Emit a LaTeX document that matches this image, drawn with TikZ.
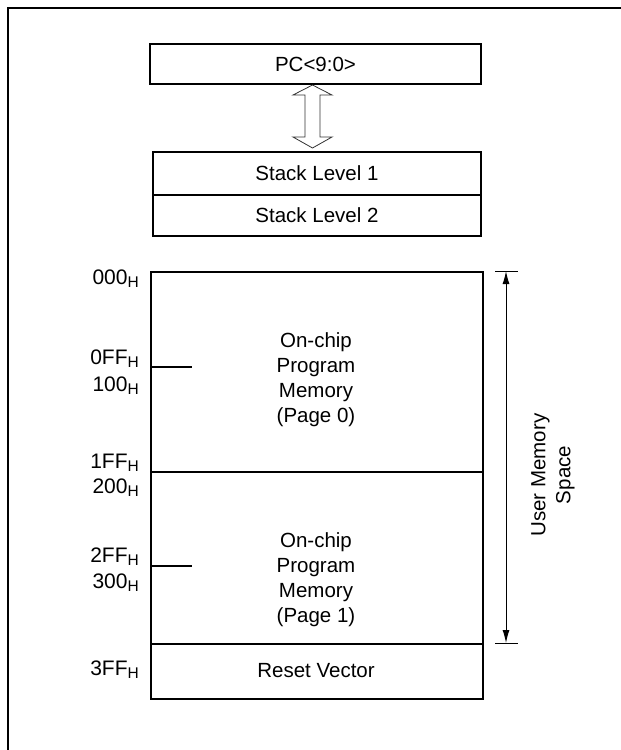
\documentclass[tikz,border=0pt]{standalone}
\usepackage{fontspec}
\setmainfont{Liberation Sans}
\usetikzlibrary{arrows.meta}
\newcommand\hsub{\raisebox{-3pt}{\fontsize{15.5}{16}\selectfont H}}
\begin{document}
\begin{tikzpicture}[x=1pt,y=-1pt,
  box/.style={draw,line width=2pt,rectangle,inner sep=0pt,anchor=north west,font=\fontsize{20.5}{25}\selectfont},
  txt/.style={align=center,inner sep=0pt,font=\fontsize{20.5}{25}\selectfont},
  addr/.style={anchor=base east,inner sep=0pt,font=\fontsize{21}{25}\selectfont},
  thick2/.style={line width=2pt}]
\useasboundingbox (0,0) rectangle (621,750);
% frame
\draw[thick2] (8,750) -- (8,8) -- (621,8);
% PC and stack
\node[box,minimum width=331pt,minimum height=40pt] (pc) at (149,43) {PC<9:0>};
\node[box,minimum width=328pt,minimum height=43pt] (sl1) at (152,151) {Stack Level 1};
\node[box,minimum width=328pt,minimum height=41pt] (sl2) at (152,194) {Stack Level 2};
% hollow double arrow
\coordinate (at) at (312.5,85);
\coordinate (ab) at (312.5,148);
\draw[line width=0.8pt,draw=black!80] (at) -- (332,95) -- (320,95) -- (320,137) -- (332,137) -- (ab)
  -- (293,137) -- (305,137) -- (305,95) -- (293,95) -- cycle;
% memory
\node[box,minimum width=332pt,minimum height=200pt] (page0) at (150,271) {};
\node[box,minimum width=332pt,minimum height=172pt] (page1) at (150,471) {};
\node[box,minimum width=332pt,minimum height=55pt] (reset) at (150,643) {};
\node[txt] (p0t) at (316,380) {On-chip\\Program\\Memory\\(Page 0)};
\node[txt] (p1t) at (316,580) {On-chip\\Program\\Memory\\(Page 1)};
\node[txt] (rvt) at (316,671) {Reset Vector};
% ticks
\coordinate (t1) at (192,367);
\coordinate (t2) at (192,566);
\draw[thick2] (page0.west |- t1) -- (t1);
\draw[thick2] (page1.west |- t2) -- (t2);
% addresses
\node[addr] (a000) at (139,284) {000\hsub};
\node[addr] (a0FF) at (139,364) {0FF\hsub};
\node[addr] (a100) at (139,391) {100\hsub};
\node[addr] (a1FF) at (139,468) {1FF\hsub};
\node[addr] (a200) at (139,493) {200\hsub};
\node[addr] (a2FF) at (139,562) {2FF\hsub};
\node[addr] (a300) at (139,588) {300\hsub};
\node[addr] (a3FF) at (139,675) {3FF\hsub};
% dimension
\coordinate (d1l) at (495,271); \coordinate (d1r) at (518,271);
\coordinate (d2l) at (495,643); \coordinate (d2r) at (518,643);
\coordinate (dt) at (506,271); \coordinate (db) at (506,643);
\draw[line width=1pt] (d1l) -- (d1r);
\draw[line width=1pt] (d2l) -- (d2r);
\draw[line width=1pt,{Latex[length=13pt,width=7pt]}-{Latex[length=13pt,width=7pt]}] (dt) -- (db);
\node[txt,rotate=90] (ums) at (553,475) {User Memory\\Space};
\end{tikzpicture}
\end{document}
